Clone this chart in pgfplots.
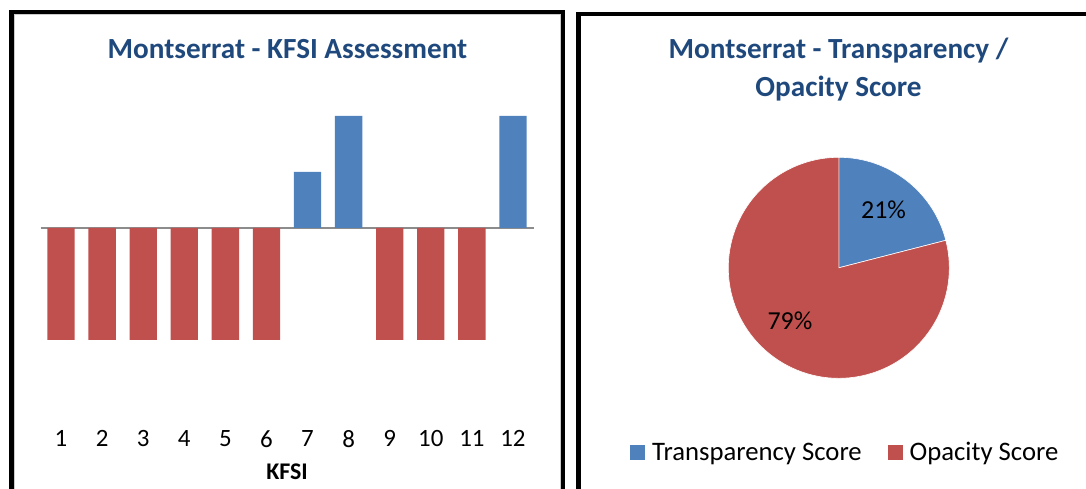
\documentclass[border=0pt]{standalone}
\usepackage{pgfplots}
\pgfplotsset{compat=1.18}
\usepackage{pgfplotstable}
\usepackage{fontspec}
\setmainfont{Carlito}
\definecolor{tblue}{HTML}{4F81BD}
\definecolor{tred}{HTML}{C0504D}
\definecolor{ttitle}{HTML}{1F497D}
\definecolor{zline}{HTML}{8C8C8C}

% KFSI assessment: transparent (+) and opaque (-) indicators
\pgfplotstableread{
k v
7 0.5
8 1
12 1
}\kfsipos
\pgfplotstableread{
k v
1 -1
2 -1
3 -1
4 -1
5 -1
6 -1
9 -1
10 -1
11 -1
}\kfsineg
% Pie: transparency / opacity score (percent)
\pgfplotstableread{
label value
Transparency 21
Opacity 79
}\piedata

\begin{document}
\begin{tikzpicture}
\path[use as bounding box] (0,0) rectangle (1086bp,489bp);

% panel borders
\draw[gray!40, line width=0.8bp] (14.6bp,-20bp) -- (14.6bp,474.4bp) -- (560bp,474.4bp) -- (560bp,-20bp);
\draw[black, line width=4.5bp] (11.7bp,-20bp) -- (11.7bp,477bp) -- (563bp,477bp) -- (563bp,-20bp);
\draw[black, line width=4.5bp] (578.4bp,-20bp) -- (578.4bp,475.2bp) -- (1100bp,475.2bp);

% left titles
\node[anchor=base, font=\bfseries\fontsize{29.3}{34}\selectfont, text=ttitle] at (287.5bp,430bp) {Montserrat - KFSI Assessment};

\begin{axis}[
  at={(40.5bp,64bp)}, anchor=south west,
  width=493bp, height=335bp, scale only axis,
  xmin=0.5, xmax=12.5, ymin=-1.759, ymax=1.232,
  axis line style={draw=none},
  xtick={1,...,12}, ytick=\empty,
  major tick length=0pt,
  /pgf/number format/assume math mode=true,
  xticklabel style={font=\fontsize{25}{30}\selectfont, text=black, yshift=-2bp},
  xlabel={KFSI},
  xlabel style={font=\bfseries\fontsize{24}{28}\selectfont, text=black, yshift=-9bp},
  extra y ticks={0}, extra y tick labels={},
  extra y tick style={grid=major, major grid style={zline, line width=1.8bp}},
  clip=false,
]
\addplot[ybar, bar width=27.3bp, bar shift=0pt, fill=tblue, draw=none] table[x=k,y=v] {\kfsipos};
\addplot[ybar, bar width=27.3bp, bar shift=0pt, fill=tred, draw=none] table[x=k,y=v] {\kfsineg};
\end{axis}

% right title
\node[anchor=base, font=\bfseries\fontsize{29.3}{34}\selectfont, text=ttitle] at (838.5bp,430bp) {Montserrat - Transparency /};
\node[anchor=base, font=\bfseries\fontsize{29.3}{34}\selectfont, text=ttitle] at (838.5bp,392bp) {Opacity Score};

\pgfplotstablegetelem{0}{value}\of\piedata \let\vT\pgfplotsretval
\pgfplotstablegetelem{1}{value}\of\piedata \let\vO\pgfplotsretval
\pgfmathsetmacro{\aT}{90-3.6*\vT}
\pgfmathsetmacro{\aO}{\aT-3.6*\vO}
\pgfmathsetmacro{\mT}{(90+\aT)/2}
\pgfmathsetmacro{\mO}{(\aT+\aO)/2-5}
\pgfmathsetmacro{\ex}{110.5*cos(\aT)}
\pgfmathsetmacro{\ey}{110.5*sin(\aT)}
\pgfmathsetmacro{\lTx}{73*cos(\mT)}
\pgfmathsetmacro{\lTy}{73*sin(\mT)}
\pgfmathsetmacro{\lOx}{72*cos(\mO)}
\pgfmathsetmacro{\lOy}{72*sin(\mO)}

\begin{axis}[
  at={(838.8bp,221.2bp)}, anchor=center,
  x=1bp, y=1bp,
  xmin=-130, xmax=130, ymin=-130, ymax=130,
  hide axis, clip=false,
]
\fill[tblue, draw=white, line width=0.6bp] (axis cs:0,0) -- (axis cs:0,110.5) arc[start angle=90, end angle=\aT, radius=110.5bp] -- cycle;
\fill[tred, draw=white, line width=0.6bp] (axis cs:0,0) -- (axis cs:\ex,\ey) arc[start angle=\aT, end angle=\aO, radius=110.5bp] -- cycle;
\node[font=\fontsize{26}{30}\selectfont] at (axis cs:\lTx,\lTy) {\vT\%};
\node[font=\fontsize{26}{30}\selectfont] at (axis cs:\lOx,\lOy) {\vO\%};
\end{axis}

% legend
\fill[tblue] (630bp,29bp) rectangle (645bp,44bp);
\node[anchor=base west, inner sep=0pt, font=\fontsize{26.8}{30}\selectfont] at (652bp,29bp) {Transparency Score};
\fill[tred] (888bp,29bp) rectangle (903bp,44bp);
\node[anchor=base west, inner sep=0pt, font=\fontsize{26.8}{30}\selectfont] at (909.5bp,29bp) {Opacity Score};
\end{tikzpicture}
\end{document}
